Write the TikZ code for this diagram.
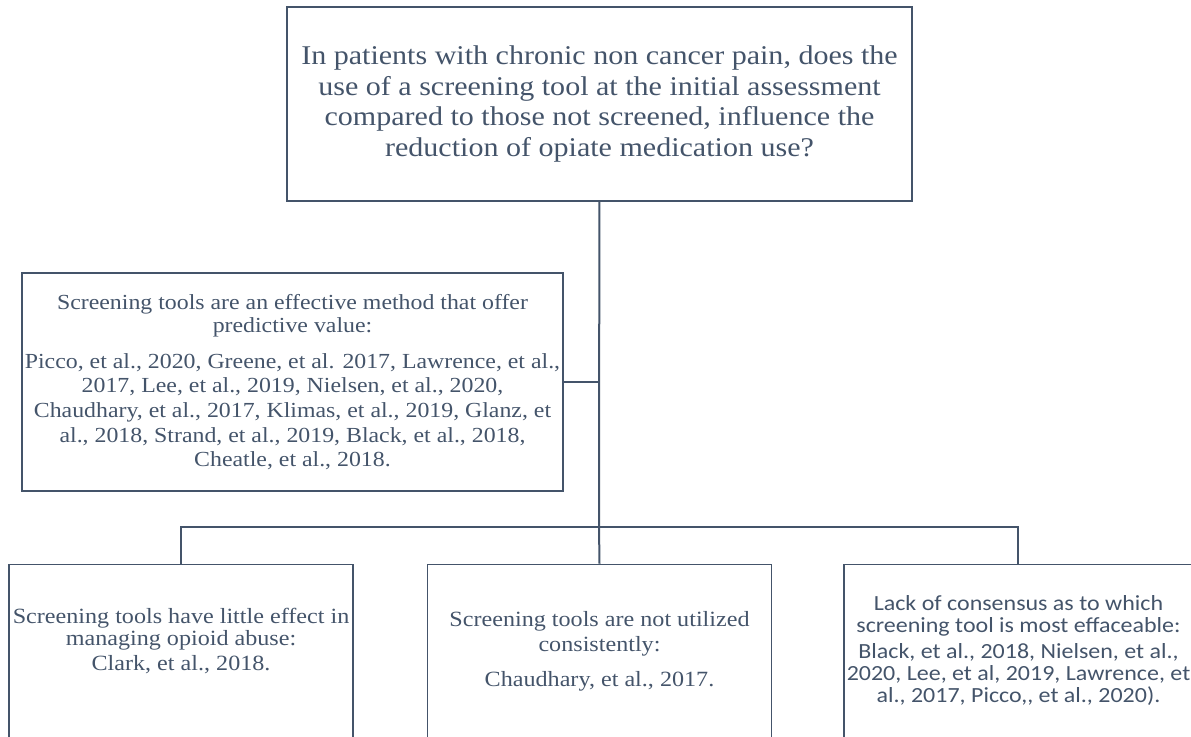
\documentclass[tikz,border=0pt]{standalone}
\usepackage{fontspec}
\setmainfont{Liberation Serif}
\newfontfamily\timesfont[FakeStretch=1.11]{Liberation Serif}
\newfontfamily\calibrifont[FakeStretch=1.11]{Carlito}
\usepackage{xcolor}
\usepackage{tikz}
\usetikzlibrary{positioning}

\definecolor{slate}{HTML}{44546A}

\begin{document}
\begin{tikzpicture}[
    x=0.75pt, y=-0.75pt,
    box/.style={rectangle, draw=slate, line width=1.1pt, text=slate, align=center, inner sep=0pt},
    conn/.style={draw=slate, line width=1.5pt}
]
\useasboundingbox (0,0) rectangle (1191,736);

% question
\node[box, minimum width=468.75pt, minimum height=145.5pt,
      font=\timesfont\fontsize{20.3}{23}\selectfont] (question) at (599.5,104)
  {In patients with chronic non cancer pain, does the\\
   use of a screening tool at the initial assessment\\
   compared to those not screened, influence the\\
   reduction of opiate medication use?};

% evidence for
\node[box, minimum width=405.75pt, minimum height=163.5pt,
      font=\timesfont\fontsize{16.1}{18.5}\selectfont] (effective) at (292.5,382)
  {Screening tools are an effective method that offer\\[-1.25pt]
   predictive value:\\[8.5pt]
   Picco, et al., 2020, Greene, et al. 2017, Lawrence, et al.,\\
   2017, Lee, et al., 2019, Nielsen, et al., 2020,\\
   Chaudhary, et al., 2017, Klimas, et al., 2019, Glanz, et\\
   al., 2018, Strand, et al., 2019, Black, et al., 2018,\\
   Cheatle, et al., 2018.};

% findings
\node[box, minimum width=258pt, minimum height=129.75pt,
      font=\timesfont\fontsize{16.3}{18.75}\selectfont] (used) [below=271.5pt of question]
  {Screening tools are not utilized\\
   consistently:\\[7.5pt]
   Chaudhary, et al., 2017.};
\node[box, minimum width=258pt, minimum height=129.75pt] (little) [left=54.75pt of used] {};
\node[text=slate, align=center, inner sep=0pt, font=\timesfont\fontsize{16.3}{16.5}\selectfont] (littletext)
  at ([yshift=7.5pt]little.center)
  {Screening tools have little effect in\\
   managing opioid abuse:\\[2.25pt]
   Clark, et al., 2018.};
\node[box, minimum width=261.75pt, minimum height=129.75pt,
      font=\calibrifont\fontsize{16.2}{16.5}\selectfont] (consensus) [right=53.25pt of used]
  {Lack of consensus as to which\\
   screening tool is most effaceable:\\[3pt]
   Black, et al., 2018, Nielsen, et al.,\\
   2020, Lee, et al, 2019, Lawrence, et\\
   al., 2017, Picco,, et al., 2020).};

\coordinate (hub) at (599,527);

\draw[conn] (question) -- (hub);
\draw[conn] (effective.east) -- (effective.east -| hub);
\draw[conn] (little.north) |- (hub) -| (consensus.north);
\draw[conn] (hub) -- (used.north);
\end{tikzpicture}
\end{document}
